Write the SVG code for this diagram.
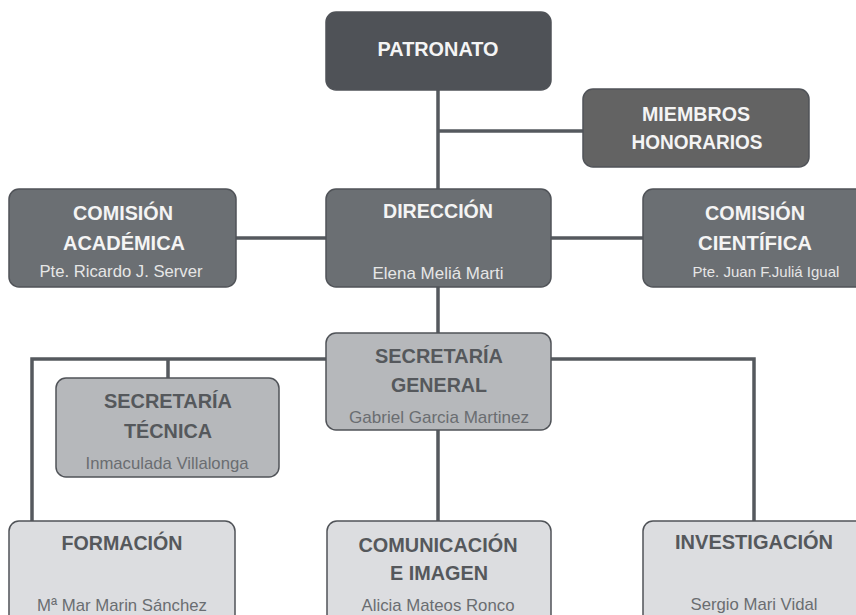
<svg xmlns="http://www.w3.org/2000/svg" width="856" height="615" viewBox="0 0 856 615">
<style>
.box{stroke:#505358;stroke-width:1.5}
.d0{fill:#4f5257}
.d1{fill:#636363}
.d2{fill:#6b6f73}
.m{fill:#b6b8bb}
.l{fill:#dcdde0}
.h{font-family:"Liberation Sans",Arial,sans-serif;font-weight:bold;font-size:21px;text-anchor:middle}
.n{font-family:"Liberation Sans",Arial,sans-serif;font-size:17px;text-anchor:middle}
.hw{fill:#f4f4f4}
.nw{fill:#e6e6e6}
.hd{fill:#55585c}
.nd{fill:#6a6d71}
.c{stroke:#55595e;stroke-width:3.5;fill:none}
</style>
<rect width="856" height="615" fill="#ffffff"/>
<g id="connectors">
<path class="c" d="M438 90V189"/>
<path class="c" d="M438 131H583"/>
<path class="c" d="M236 238H326M551 238H643"/>
<path class="c" d="M438 287V333"/>
<path class="c" d="M326 359H32V521"/>
<path class="c" d="M168 359V378"/>
<path class="c" d="M551 359H754V521"/>
<path class="c" d="M438 430V521"/>
</g>
<g id="patronato">
<rect class="box d0" x="326" y="12" width="225" height="78" rx="10"/>
<text class="h hw" x="438" y="56" textLength="121" lengthAdjust="spacingAndGlyphs">PATRONATO</text>
</g>
<g id="miembros">
<rect class="box d1" x="583" y="89" width="226" height="78" rx="10"/>
<text class="h hw" x="696" y="121" textLength="108" lengthAdjust="spacingAndGlyphs">MIEMBROS</text>
<text class="h hw" x="697" y="149" textLength="131" lengthAdjust="spacingAndGlyphs">HONORARIOS</text>
</g>
<g id="comision-academica">
<rect class="box d2" x="9" y="189" width="227" height="98" rx="10"/>
<text class="h hw" x="123" y="220" textLength="100" lengthAdjust="spacingAndGlyphs">COMISIÓN</text>
<text class="h hw" x="124" y="250" textLength="122" lengthAdjust="spacingAndGlyphs">ACADÉMICA</text>
<text class="n nw" x="121" y="277" textLength="163" lengthAdjust="spacingAndGlyphs">Pte. Ricardo J. Server</text>
</g>
<g id="direccion">
<rect class="box d2" x="326" y="189" width="225" height="98" rx="10"/>
<text class="h hw" x="438" y="218" textLength="110" lengthAdjust="spacingAndGlyphs">DIRECCIÓN</text>
<text class="n nw" x="438" y="279" textLength="131" lengthAdjust="spacingAndGlyphs">Elena Meliá Marti</text>
</g>
<g id="comision-cientifica">
<rect class="box d2" x="643" y="189" width="224" height="98" rx="10"/>
<text class="h hw" x="755" y="220" textLength="100" lengthAdjust="spacingAndGlyphs">COMISIÓN</text>
<text class="h hw" x="755" y="250" textLength="114" lengthAdjust="spacingAndGlyphs">CIENTÍFICA</text>
<text class="nw" x="766" y="277" font-family="Liberation Sans, Arial, sans-serif" font-size="15" text-anchor="middle">Pte. Juan F.Juliá Igual</text>
</g>
<g id="secretaria-general">
<rect class="box m" x="326" y="333" width="225" height="97" rx="10"/>
<text class="h hd" x="439" y="363" textLength="128" lengthAdjust="spacingAndGlyphs">SECRETARÍA</text>
<text class="h hd" x="439" y="392" textLength="96" lengthAdjust="spacingAndGlyphs">GENERAL</text>
<text class="n nd" x="439" y="423" textLength="180" lengthAdjust="spacingAndGlyphs">Gabriel Garcia Martinez</text>
</g>
<g id="secretaria-tecnica">
<rect class="box m" x="56" y="378" width="223" height="99" rx="10"/>
<text class="h hd" x="168" y="408" textLength="128" lengthAdjust="spacingAndGlyphs">SECRETARÍA</text>
<text class="h hd" x="168" y="438" textLength="88" lengthAdjust="spacingAndGlyphs">TÉCNICA</text>
<text class="n nd" x="167" y="469" textLength="163" lengthAdjust="spacingAndGlyphs">Inmaculada Villalonga</text>
</g>
<g id="formacion">
<rect class="box l" x="9" y="521" width="226" height="110" rx="10"/>
<text class="h hd" x="122" y="550" textLength="121" lengthAdjust="spacingAndGlyphs">FORMACIÓN</text>
<text class="n nd" x="122" y="611" textLength="170" lengthAdjust="spacingAndGlyphs">Mª Mar Marin Sánchez</text>
</g>
<g id="comunicacion">
<rect class="box l" x="327" y="521" width="224" height="110" rx="10"/>
<text class="h hd" x="438" y="552" textLength="159" lengthAdjust="spacingAndGlyphs">COMUNICACIÓN</text>
<text class="h hd" x="439" y="580" textLength="98" lengthAdjust="spacingAndGlyphs">E IMAGEN</text>
<text class="n nd" x="438" y="611" textLength="153" lengthAdjust="spacingAndGlyphs">Alicia Mateos Ronco</text>
</g>
<g id="investigacion">
<rect class="box l" x="643" y="521" width="224" height="110" rx="10"/>
<text class="h hd" x="754" y="549" textLength="158" lengthAdjust="spacingAndGlyphs">INVESTIGACIÓN</text>
<text class="n nd" x="754" y="610" textLength="127" lengthAdjust="spacingAndGlyphs">Sergio Mari Vidal</text>
</g>
</svg>
